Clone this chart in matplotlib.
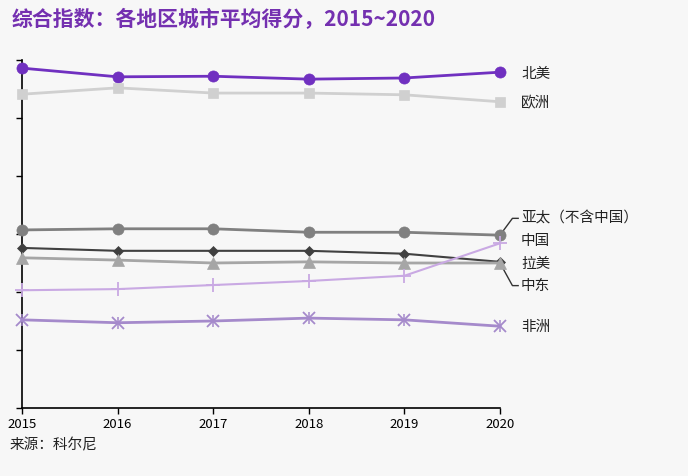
import matplotlib.pyplot as plt

plt.rcParams['font.family'] = ['Noto Sans CJK SC', 'DejaVu Sans']

# 年份与各地区得分（从图上估读，单位随意）
years = [2015, 2016, 2017, 2018, 2019, 2020]
north_america = [58.6, 57.1, 57.2, 56.7, 56.9, 57.9]
europe = [54.1, 55.2, 54.3, 54.3, 54.0, 52.8]
asia_pacific = [30.7, 30.9, 30.9, 30.3, 30.3, 29.8]
middle_east = [27.6, 27.1, 27.1, 27.1, 26.6, 25.2]
latin_america = [25.9, 25.5, 25.0, 25.2, 25.0, 25.0]
china = [20.3, 20.5, 21.2, 21.9, 22.8, 28.4]
africa = [15.2, 14.7, 15.0, 15.5, 15.2, 14.1]

names = ['北美', '欧洲', '亚太（不含中国）', '中东', '拉美', '中国', '非洲']
label_y = [57.6, 52.6, 32.7, 21.1, 24.9, 28.8, 13.9]

bg = '#f7f7f7'
fig = plt.figure(figsize=(6.88, 4.76), dpi=100, facecolor=bg)
ax = fig.add_axes([22/688, 1-408/476, 478/688, 348/476])
ax.set_facecolor(bg)

series = [
    (north_america, '#7030c0', 'o', 8, 2),
    (europe, '#d0d0d0', 's', 7, 2),
    (asia_pacific, '#808080', 'o', 8, 2),
    (middle_east, '#404040', 'D', 5.5, 1.5),
    (latin_america, '#a6a6a6', '^', 8, 2),
    (china, '#c9a9e3', '+', 10, 1.5),
    (africa, '#a58acb', 'x', 8, 2),
]
for vals, c, m, ms, lw in series:
    ax.plot(years, vals, color=c, lw=lw, marker=m, markersize=ms,
            markeredgecolor=c, markeredgewidth=1.3 if m in '+x' else 0.5,
            clip_on=False, zorder=3)
# 非洲的星形标记（x 叠加 |）
ax.plot(years, africa, linestyle='none', marker='|', markersize=9,
        color='#a58acb', markeredgewidth=1.1, clip_on=False, zorder=3)

ax.set_xlim(2015, 2020)
ax.set_ylim(0, 60)
ax.set_xticks(years)
ax.set_yticks(range(0, 61, 10))
ax.set_yticklabels([])
ax.tick_params(axis='both', direction='out', length=4, width=1, color='black')
ax.tick_params(axis='x', labelsize=9.5, pad=3)
for s in ['top', 'right']:
    ax.spines[s].set_visible(False)
for s in ['left', 'bottom']:
    ax.spines[s].set_linewidth(1.2)

for n, yv in zip(names, label_y):
    ax.text(2020.22, yv, n, va='center', ha='left', fontsize=10.5,
            color='#222222', clip_on=False)

# 引导线
ax.plot([2020, 2020.13, 2020.19], [29.8, 32.7, 32.7], color='#333333', lw=1,
        clip_on=False, zorder=2)
ax.plot([2020, 2020.13, 2020.19], [25.0, 21.1, 21.1], color='#333333', lw=1,
        clip_on=False, zorder=2)

fig.text(12/688, 1-20/476, '综合指数：各地区城市平均得分，2015~2020', fontsize=15,
         fontweight='bold', color='#7430b0', va='center', ha='left')
fig.text(10/688, 1-445/476, '来源：科尔尼', fontsize=10.5, color='#222222',
         va='center', ha='left')

fig.savefig('out.png', dpi=100, facecolor=bg)
